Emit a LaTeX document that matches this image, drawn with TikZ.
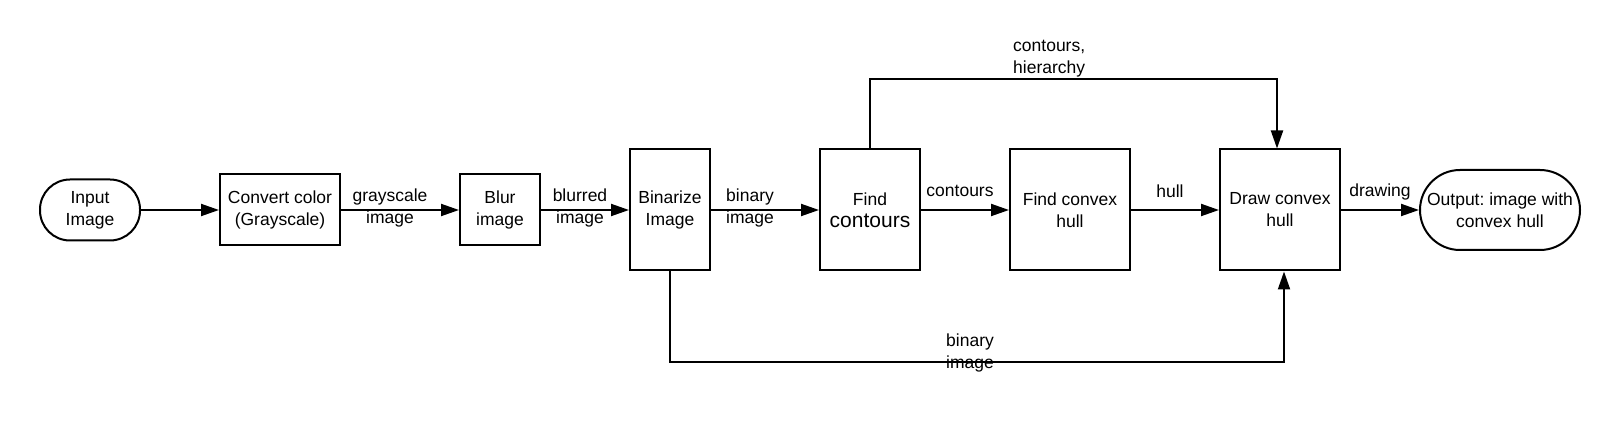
\documentclass[tikz,border=0pt]{standalone}
\usepackage{fontspec}
\setmainfont{Liberation Sans}
\usetikzlibrary{arrows.meta,calc}
\frenchspacing
\begin{document}
\begin{tikzpicture}[x=1pt,y=-1pt,
  every node/.style={font=\fontsize{17.5}{22}\selectfont, inner sep=0pt, align=center},
  box/.style={draw, line width=2pt, rectangle},
  term/.style={draw, line width=2pt, rectangle, rounded corners=#1},
  arr/.style={line width=2pt, -{Triangle[length=18pt,width=12pt]}},
  lbl/.style={}
]
\useasboundingbox (0,0) rectangle (1620,430);
\node[term=30pt, minimum width=100pt, minimum height=61pt] (in) at (90,210) {Input\\Image};
\node[box, minimum width=120pt, minimum height=71pt] (conv) at (280,210) {Convert color\\(Grayscale)};
\node[box, minimum width=80pt, minimum height=71pt] (blur) at (500,210) {Blur\\image};
\node[box, minimum width=80pt, minimum height=121pt] (bin) at (670,210) {Binarize\\Image};
\node[box, minimum width=100pt, minimum height=121pt] (find) at (870,210) {Find\\{\fontsize{21}{24}\selectfont contours}};
\node[box, minimum width=120pt, minimum height=121pt] (hull) at (1070,210) {Find convex\\hull};
\node[box, minimum width=120pt, minimum height=121pt] (drw) at (1280,210) {Draw convex\\hull};
\node[term=40pt, minimum width=160pt, minimum height=80pt] (out) at (1500,210) {Output: image with\\convex hull};

\draw[arr] (in) -- (conv);
\draw[arr] (conv) -- (blur);
\draw[arr] (blur) -- (bin);
\draw[arr] (bin) -- (find);
\draw[arr] (find) -- (hull);
\draw[arr] (hull) -- (drw);
\draw[arr] (drw) -- (out);
\draw[arr] (find.north) -- ++(0,-69.5) -| ([xshift=-3pt]drw.north);
\draw[arr] (bin.south) -- ++(0,90) -| ([xshift=4pt]drw.south);

\node[lbl] (l1) at (390,208) {grayscale\\image};
\node[lbl] (l2) at (580,208) {blurred\\image};
\node[lbl] (l3) at (750,208) {binary\\image};
\node[lbl] (l4) at (960,191) {contours};
\node[lbl] (l5) at (1170,191) {hull};
\node[lbl] (l6) at (1380,192) {drawing};
\node[lbl, anchor=west, align=left] (l7) at (1013,59) {contours,\\hierarchy};
\node[lbl, align=left] (l8) at (970,353) {binary\\image};
\end{tikzpicture}
\end{document}
